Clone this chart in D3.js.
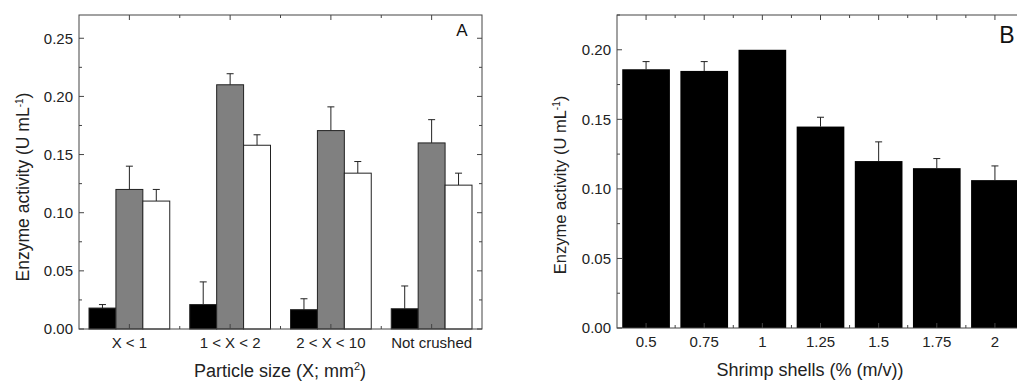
<!DOCTYPE html>
<html>
<head>
<meta charset="utf-8">
<script src="https://cdn.jsdelivr.net/npm/d3@7"></script>
<style>
  body { margin: 0; background: #fff; }
  svg { display: block; font-family: "Liberation Sans", Arial, sans-serif; }
</style>
</head>
<body>
<div id="chart"></div>
<script>
// --------------------------------------
//  Data
// --------------------------------------

const sizeCats = ["X < 1", "1 < X < 2", "2 < X < 10", "Not crushed"];
const blackVals = [0.018, 0.021, 0.0166, 0.0174];
const blackErr  = [0.003, 0.0195, 0.0094, 0.0196];
const grayVals  = [0.120, 0.210, 0.1706, 0.160];
const grayErr   = [0.020, 0.0095, 0.0204, 0.020];
const whiteVals = [0.110, 0.158, 0.134, 0.1237];
const whiteErr  = [0.010, 0.009, 0.010, 0.0103];
const ticksA = [0, 0.05, 0.10, 0.15, 0.20, 0.25];

const shellCats = ["0.5", "0.75", "1", "1.25", "1.5", "1.75", "2"];
const shellVals = [0.186, 0.1848, 0.200, 0.1448, 0.120, 0.1149, 0.1063];
const shellErr  = [0.0055, 0.0067, 0, 0.0067, 0.0138, 0.0069, 0.0102];
const ticksB = [0, 0.05, 0.10, 0.15, 0.20];

const width = 1017, height = 385;
const axisColor = "#444";

const svg = d3.select("#chart")
  .append("svg")
    .attr("width", width)
    .attr("height", height)
    .attr("viewBox", [0, 0, width, height]);

// --------------------------------------
//  Helper: framed axes with inward ticks
// --------------------------------------

function frame(g, x, y, majors, w, h) {
  const minors = d3.range(0, y.domain()[1] + 1e-9, 0.025);

  // y ticks, left and right, inward
  [[0, 1], [w, -1]].forEach(([x0, dir]) => {
    g.append("g").selectAll("line")
      .data(minors)
      .join("line")
        .attr("x1", x0)
        .attr("x2", d => x0 + dir * (majors.some(m => Math.abs(m - d) < 1e-9) ? 5 : 3))
        .attr("y1", d => y(d))
        .attr("y2", d => y(d))
        .attr("stroke", axisColor);
  });

  // x ticks, top and bottom: major at band centres, minor at band edges
  const centres = x.domain().map(d => x(d) + x.bandwidth() / 2);
  const edges = d3.range(1, x.domain().length).map(i => x.step() * i);
  [[0, 1], [h, -1]].forEach(([y0, dir]) => {
    g.append("g").selectAll("line")
      .data(centres.map(c => [c, 5]).concat(edges.map(e => [e, 3])))
      .join("line")
        .attr("x1", d => d[0])
        .attr("x2", d => d[0])
        .attr("y1", y0)
        .attr("y2", d => y0 + dir * d[1])
        .attr("stroke", axisColor);
  });

  g.append("rect")
    .attr("width", w)
    .attr("height", h)
    .attr("fill", "none")
    .attr("stroke", axisColor)
    .attr("stroke-width", 1);

  g.append("g").selectAll("text")
    .data(majors)
    .join("text")
      .attr("x", -6)
      .attr("y", d => y(d))
      .attr("dy", "0.35em")
      .attr("text-anchor", "end")
      .attr("font-size", 15)
      .attr("fill", "#222")
      .text(d3.format(".2f"));

  g.append("g").selectAll("text")
    .data(x.domain())
    .join("text")
      .attr("x", d => x(d) + x.bandwidth() / 2)
      .attr("y", h + 19)
      .attr("text-anchor", "middle")
      .attr("font-size", 15)
      .attr("fill", "#222")
      .text(d => d);
}

function yTitle(g, cx, cy, size) {
  const t = g.append("text")
    .attr("transform", `translate(${cx}, ${cy}) rotate(-90)`)
    .attr("text-anchor", "middle")
    .attr("dy", "0.35em")
    .attr("font-size", size)
    .attr("fill", "#222");
  t.append("tspan").text("Enzyme activity (U mL");
  t.append("tspan").attr("font-size", 10).attr("dy", -6).text("-1");
  t.append("tspan").attr("dy", 6).text(")");
}

function errBars(g, data, cx, y) {
  const eg = g.append("g").attr("stroke", "#222").attr("stroke-width", 1);
  const withErr = data.filter(d => d.e > 0);
  eg.selectAll("line.v")
    .data(withErr)
    .join("line")
      .attr("class", "v")
      .attr("x1", cx).attr("x2", cx)
      .attr("y1", d => y(d.v))
      .attr("y2", d => y(d.v + d.e));
  eg.selectAll("line.c")
    .data(withErr)
    .join("line")
      .attr("class", "c")
      .attr("x1", d => cx(d) - 3.5).attr("x2", d => cx(d) + 3.5)
      .attr("y1", d => y(d.v + d.e))
      .attr("y2", d => y(d.v + d.e));
}

// --------------------------------------
//  Panel A
// --------------------------------------

const A = { left: 79, top: 15, w: 403, h: 314 };
const gA = svg.append("g").attr("transform", `translate(${A.left}, ${A.top})`);

const xA = d3.scaleBand().domain(sizeCats).range([0, A.w]).paddingInner(0).paddingOuter(0);
const subA = d3.scaleBand().domain(["black", "gray", "white"]).range([10, xA.bandwidth() - 10]);
const yA = d3.scaleLinear().domain([0, 0.27]).range([A.h, 0]);

const seriesA = [
  { key: "black", fill: "#000000", vals: blackVals, errs: blackErr },
  { key: "gray",  fill: "#808080", vals: grayVals,  errs: grayErr },
  { key: "white", fill: "#ffffff", vals: whiteVals, errs: whiteErr }
];

seriesA.forEach(s => {
  const data = sizeCats.map((c, i) => ({ c, v: s.vals[i], e: s.errs[i] }));
  const cx = d => xA(d.c) + subA(s.key) + subA.bandwidth() / 2;
  errBars(gA, data, cx, yA);
  gA.append("g").selectAll("rect")
    .data(data)
    .join("rect")
      .attr("x", d => xA(d.c) + subA(s.key))
      .attr("y", d => yA(d.v))
      .attr("width", subA.bandwidth())
      .attr("height", d => yA(0) - yA(d.v))
      .attr("fill", s.fill)
      .attr("stroke", "#222")
      .attr("stroke-width", 1);
});

frame(gA, xA, yA, ticksA, A.w, A.h);
yTitle(svg, 23, 187, 17.5);

svg.append("text")
  .attr("x", 280)
  .attr("y", 377)
  .attr("text-anchor", "middle")
  .attr("font-size", 18)
  .attr("fill", "#222")
  .call(t => {
    t.append("tspan").text("Particle size (X; mm");
    t.append("tspan").attr("font-size", 11).attr("dy", -7).text("2");
    t.append("tspan").attr("dy", 7).text(")");
  });

svg.append("text")
  .attr("x", 462).attr("y", 36)
  .attr("text-anchor", "middle")
  .attr("font-size", 17)
  .attr("fill", "#111")
  .text("A");

// --------------------------------------
//  Panel B
// --------------------------------------

const B = { left: 617, top: 15, w: 407, h: 313 };
const gB = svg.append("g").attr("transform", `translate(${B.left}, ${B.top})`);

const xB = d3.scaleBand().domain(shellCats).range([0, B.w]).paddingInner(0.18).paddingOuter(0.09);
const yB = d3.scaleLinear().domain([0, 0.225]).range([B.h, 0]);

const dataB = shellCats.map((c, i) => ({ c, v: shellVals[i], e: shellErr[i] }));
errBars(gB, dataB, d => xB(d.c) + xB.bandwidth() / 2, yB);

gB.append("g").selectAll("rect")
  .data(dataB)
  .join("rect")
    .attr("x", d => xB(d.c))
    .attr("y", d => yB(d.v))
    .attr("width", xB.bandwidth())
    .attr("height", d => yB(0) - yB(d.v))
    .attr("fill", "#000");

frame(gB, xB, yB, ticksB, B.w, B.h);
yTitle(svg, 560, 185, 16.5);

svg.append("text")
  .attr("x", 810)
  .attr("y", 376)
  .attr("text-anchor", "middle")
  .attr("font-size", 18)
  .attr("fill", "#222")
  .text("Shrimp shells (% (m/v))");

svg.append("text")
  .attr("x", 1007).attr("y", 43)
  .attr("text-anchor", "middle")
  .attr("font-size", 23)
  .attr("fill", "#111")
  .text("B");
</script>
</body>
</html>
